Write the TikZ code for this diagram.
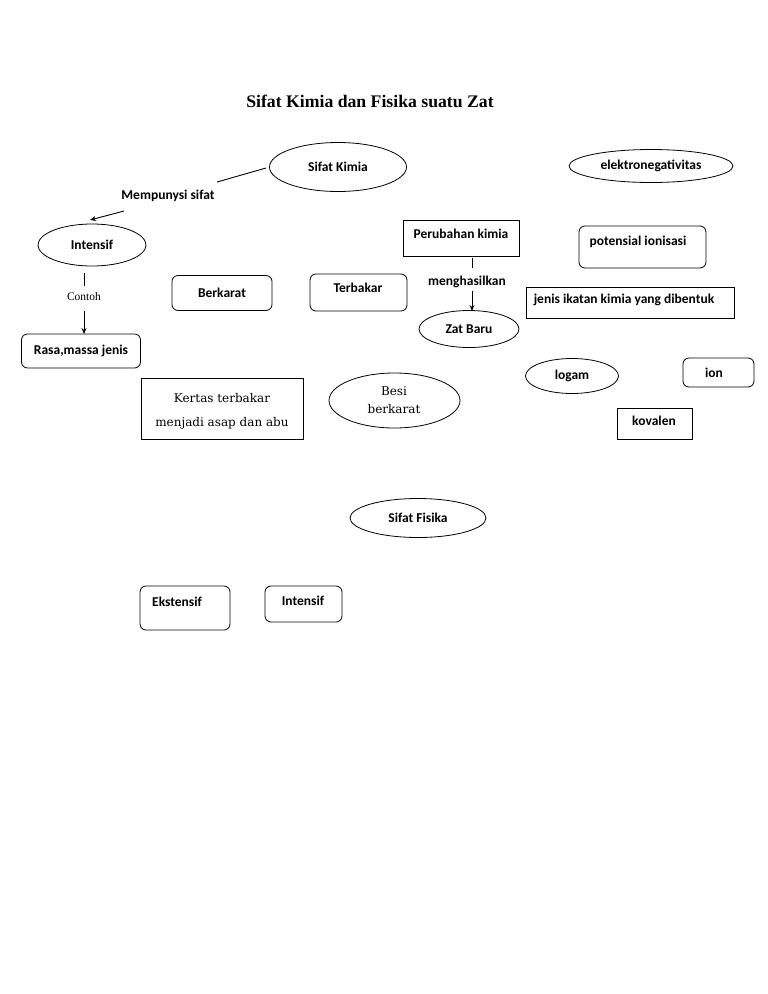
\documentclass[tikz,border=0pt]{standalone}
\usepackage{fontspec}
\setmainfont{Carlito}
\newfontfamily\titlefont{Liberation Serif}
\newfontfamily\slabfont{DejaVu Serif}
\usetikzlibrary{shapes.geometric,arrows.meta}
\begin{document}
\begin{tikzpicture}[x=1pt,y=-1pt,
  lbl/.style={font=\fontsize{13.5}{15}\selectfont\bfseries, inner sep=0pt},
  slab/.style={font=\slabfont\fontsize{12}{14}\selectfont, inner sep=0pt},
  ell/.style={draw, ellipse, line width=0.8pt, inner sep=0pt},
  rbox/.style={draw, rounded corners=6pt, line width=0.8pt, inner sep=0pt},
  sbox/.style={draw, line width=0.8pt, inner sep=0pt},
  conn/.style={line width=0.9pt},
  arr/.style={line width=0.9pt, -{Stealth[length=6pt,width=5pt]}}]
\useasboundingbox[fill=white] (0,0) rectangle (768,994);
% title
\node[font=\titlefont\fontsize{17.7}{20}\selectfont\bfseries, inner sep=0pt] (title) at (370,101) {Sifat Kimia dan Fisika suatu Zat};
% Sifat Kimia
\node[ell, minimum width=137pt, minimum height=49pt, lbl] (kimia) at (338,167) {Sifat Kimia};
\coordinate (k1) at (266,168);
\coordinate (k2) at (217,182);
\draw[conn] (k1) -- (k2);
\node[lbl] (mps) at (168,196) {Mempunysi sifat};
\coordinate (m1) at (124,211);
\coordinate (m2) at (90,220);
\draw[arr] (m1) -- (m2);
% Intensif (kimia)
\node[ell, minimum width=108pt, minimum height=42pt, lbl] (intk) at (92,245) {Intensif};
\coordinate (i1) at (84,273);
\coordinate (i2) at (84,286);
\draw[conn] (i1) -- (i2);
\node[font=\titlefont\fontsize{11.5}{13}\selectfont, inner sep=0pt] (contoh) at (84,297) {Contoh};
\coordinate (c1) at (84,311);
\coordinate (c2) at (84,334);
\draw[arr] (c1) -- (c2);
\node[rbox, minimum width=119pt, minimum height=34pt, lbl] (rasa) at (81,351) {Rasa,massa jenis};
% Berkarat, Terbakar
\node[rbox, minimum width=100pt, minimum height=35pt, lbl] (berkarat) at (222,293) {Berkarat};
\node[rbox, minimum width=97pt, minimum height=37pt] (terbakar) at (358.5,292.5) {};
\node[lbl] (terbakart) at (358,288) {Terbakar};
% Perubahan kimia
\node[sbox, minimum width=116pt, minimum height=36pt] (perubahan) at (461,238) {};
\node[lbl] (perubahant) at (461,234) {Perubahan kimia};
\coordinate (p1) at (472,258);
\coordinate (p2) at (472,268);
\draw[conn] (p1) -- (p2);
\node[lbl] (meng) at (467,282) {menghasilkan};
\coordinate (z1) at (472,291);
\coordinate (z2) at (472,311);
\draw[arr] (z1) -- (z2);
\node[ell, minimum width=100pt, minimum height=37pt, lbl] (zat) at (469,329) {Zat Baru};
% right column
\node[ell, minimum width=164pt, minimum height=33pt, lbl] (elek) at (651,166) {elektronegativitas};
\node[rbox, minimum width=127pt, minimum height=42pt] (poten) at (642.5,247) {};
\node[lbl] (potent) at (638,242) {potensial ionisasi};
\node[sbox, minimum width=208pt, minimum height=31pt] (jenis) at (630,302.5) {};
\node[lbl] (jenist) at (624,300) {jenis ikatan kimia yang dibentuk};
\node[ell, minimum width=93pt, minimum height=35pt, lbl] (logam) at (572,376) {logam};
\node[rbox, minimum width=71pt, minimum height=29pt] (ion) at (718.5,372.5) {};
\node[lbl] (iont) at (714,373) {ion};
\node[sbox, minimum width=75pt, minimum height=31pt] (kovalen) at (654.5,423.5) {};
\node[lbl] (kovalent) at (654,421) {kovalen};
% examples
\node[sbox, minimum width=162pt, minimum height=61pt] (kertas) at (222,408.5) {};
\node[slab] (kertas1) at (222,398) {Kertas terbakar};
\node[slab] (kertas2) at (222,423) {menjadi asap dan abu};
\node[ell, minimum width=131pt, minimum height=55pt] (besi) at (394.5,400.5) {};
\node[slab] (besi1) at (394,391) {Besi};
\node[slab] (besi2) at (394,409) {berkarat};
% Sifat Fisika
\node[ell, minimum width=136pt, minimum height=39pt, lbl] (fisika) at (418,518) {Sifat Fisika};
\node[rbox, minimum width=90pt, minimum height=44pt] (eks) at (185,608) {};
\node[lbl, anchor=west] (ekst) at (152,602) {Ekstensif};
\node[rbox, minimum width=77pt, minimum height=36pt] (intf) at (303.5,604) {};
\node[lbl] (intft) at (303,601) {Intensif};
\end{tikzpicture}
\end{document}
